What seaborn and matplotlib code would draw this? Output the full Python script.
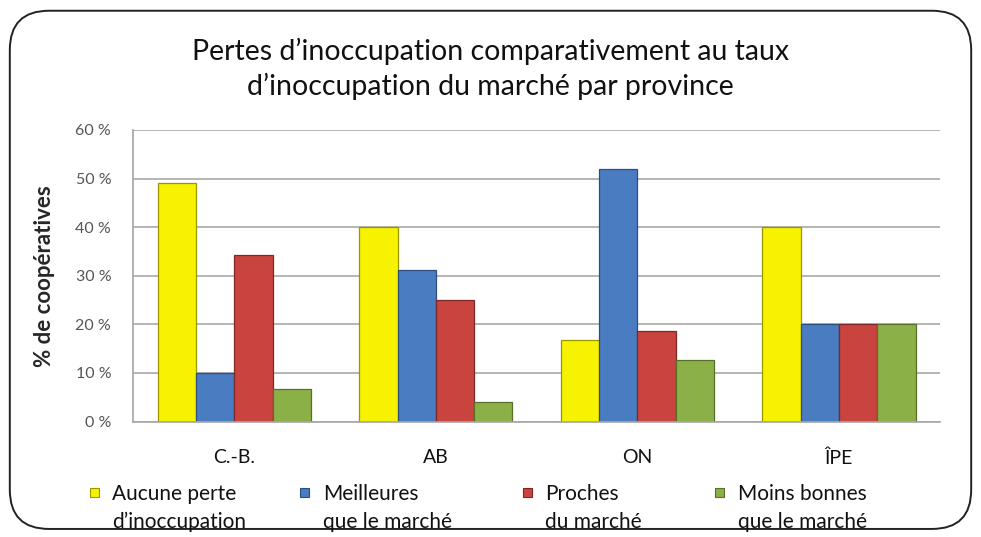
import matplotlib
matplotlib.use("Agg")
import matplotlib.pyplot as plt
import seaborn as sns
import pandas as pd
from matplotlib.patches import FancyBboxPatch, Rectangle
from matplotlib.ticker import FuncFormatter

provinces = ["C.-B.", "AB", "ON", "ÎPE"]
series = ["Aucune perte\nd’inoccupation", "Meilleures\nque le marché",
          "Proches\ndu marché", "Moins bonnes\nque le marché"]
aucune = [49, 40, 16.7, 40]
meilleures = [10, 31.2, 52, 20]
proches = [34.3, 25, 18.7, 20]
moins = [6.6, 4.1, 12.6, 20]
colors = ["#F7F200", "#4A7CC2", "#C9433F", "#8CB048"]
edges = ["#9A9600", "#2C4F80", "#7E2725", "#56702A"]

rows = []
for s, vals in zip(series, [aucune, meilleures, proches, moins]):
    for p, v in zip(provinces, vals):
        rows.append({"prov": p, "serie": s, "val": v})
df = pd.DataFrame(rows)

sns.set_theme(style="white")
plt.rcParams["font.family"] = ["Lato", "DejaVu Sans"]

W, H = 981, 537
fig = plt.figure(figsize=(W / 100, H / 100), dpi=100)
ax = fig.add_axes([0.136, 0.215, 0.822, 0.543])

sns.barplot(data=df, x="prov", y="val", hue="serie", hue_order=series,
            palette=colors, width=0.76, ax=ax, legend=False, saturation=1)
for i, cont in enumerate(ax.containers):
    for b in cont:
        b.set_edgecolor(edges[i])
        b.set_linewidth(0.9)

ax.set_ylim(0, 60)
ax.set_xlim(-0.5, 3.5)
ax.set_yticks(range(0, 61, 10))
ax.yaxis.set_major_formatter(FuncFormatter(lambda v, p: f"{int(v)} %"))
ax.grid(axis="y", color="#A8A8A8", linewidth=1.2)
ax.set_axisbelow(True)
for s in ["top", "right"]:
    ax.spines[s].set_visible(False)
ax.spines["left"].set_color("#A8A8A8")
ax.spines["bottom"].set_color("#A8A8A8")
ax.tick_params(axis="y", labelsize=11.5, labelcolor="#555555", length=0, pad=16)
ax.tick_params(axis="x", labelsize=14, labelcolor="#111111", length=0, pad=20)
ax.set_xlabel("")
ax.set_ylabel("% de coopératives", fontsize=16, fontweight="bold")
ax.yaxis.set_label_coords(-0.097, 0.5)

fig.text(0.5, 0.872, "Pertes d’inoccupation comparativement au taux\nd’inoccupation du marché par province",
         ha="center", va="center", fontsize=20.5, linespacing=1.35, color="#111111")

# legend (custom, left-aligned two-line labels)
handle_x = [90, 300, 523, 715]
text_x = [112, 323, 545, 738]
line_y = [492, 520]
sq = 9
for hx, tx, c, e, lab in zip(handle_x, text_x, colors, edges, series):
    fig.patches.append(Rectangle((hx / W, 1 - (line_y[0] + sq / 2) / H), sq / W, sq / H,
                                 transform=fig.transFigure, facecolor=c, edgecolor=e,
                                 linewidth=0.8))
    for ly, line in zip(line_y, lab.split("\n")):
        fig.text(tx / W, 1 - ly / H, line, ha="left", va="center_baseline",
                 fontsize=15, color="#111111")

border = FancyBboxPatch((0.01, 0.015), 0.98, 0.965, boxstyle="round,pad=0,rounding_size=0.04",
                        transform=fig.transFigure, fill=False, edgecolor="#222222",
                        linewidth=1.4, mutation_aspect=W / H)
fig.patches.append(border)

fig.savefig("out.png", dpi=100)
